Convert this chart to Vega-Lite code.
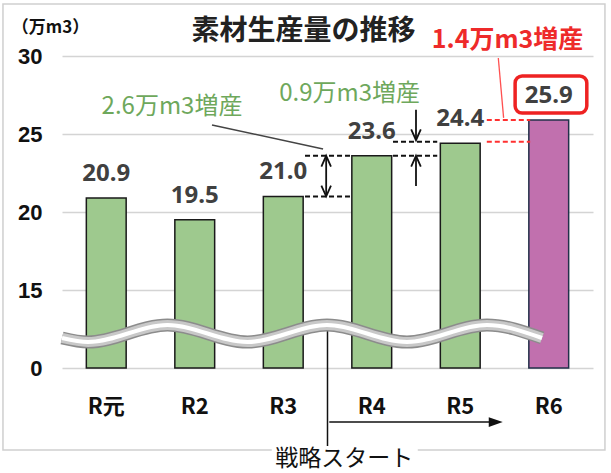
{
  "$schema": "https://vega.github.io/schema/vega-lite/v6.json",
  "width": 531,
  "height": 312,
  "autosize": "none",
  "padding": {"left": 62, "top": 56, "right": 18, "bottom": 105},
  "background": "white",
  "config": {"view": {"stroke": null}, "font": "Noto Sans CJK JP"},
  "datasets": {
    "wave": [
      {"px": 0.0, "v": 5.77},
      {"px": 0.294, "v": 5.0},
      {"px": 1.192, "v": 8.27},
      {"px": 2.096, "v": 5.0},
      {"px": 2.994, "v": 8.27},
      {"px": 3.898, "v": 5.0},
      {"px": 4.802, "v": 8.27},
      {"px": 5.424, "v": 5.77}
    ]
  },
  "encoding": {
    "y": {
      "field": "v",
      "type": "quantitative",
      "scale": {"domain": [0, 15, 30], "range": [312, 234, 0], "nice": false, "zero": false},
      "axis": {
        "values": [0, 15, 20, 25, 30],
        "title": "（万m3）",
        "titleAngle": 0,
        "titleX": -12,
        "titleY": -29,
        "titleAlign": "center",
        "titleBaseline": "middle",
        "titleFont": "Noto Sans CJK JP",
        "titleFontSize": 17,
        "titleFontWeight": "bold",
        "titleColor": "#111111",
        "labelFont": "Liberation Sans",
        "labelFontSize": 22,
        "labelFontWeight": "bold",
        "labelColor": "#111111",
        "labelPadding": 20,
        "ticks": false,
        "domain": false,
        "grid": true,
        "gridColor": "#d4d4d4",
        "gridWidth": 1.5
      }
    }
  },
  "layer": [
    {
      "data": {"values": [{"a": -0.667, "b": 6.135, "v": 33.33, "v2": -15.77}]},
      "mark": {"type": "rect", "fill": "transparent", "stroke": "#cfcfcf", "strokeWidth": 1.5},
      "encoding": {
        "x": {"field": "a", "type": "quantitative", "scale": {"domain": [0, 6], "nice": false, "zero": false}, "axis": null},
        "x2": {"field": "b"},
        "y2": {"field": "v2"}
      }
    },
    {
      "data": {"values": [
        {"cat": "R元", "v": 20.9, "g": "a"},
        {"cat": "R2", "v": 19.5, "g": "a"},
        {"cat": "R3", "v": 21.0, "g": "a"},
        {"cat": "R4", "v": 23.6, "g": "a"},
        {"cat": "R5", "v": 24.4, "g": "a"},
        {"cat": "R6", "v": 25.9, "g": "b"}
      ]},
      "encoding": {
        "x": {"field": "cat", "type": "nominal", "sort": null,
          "scale": {"paddingInner": 0.55, "paddingOuter": 0.275},
          "axis": {"title": null, "labelAngle": 0, "labelFont": "Noto Sans CJK JP", "labelFontSize": 22, "labelFontWeight": "bold", "labelColor": "#111111", "labelPadding": 28, "ticks": false, "domain": false, "grid": false}}
      },
      "layer": [
        {
          "mark": {"type": "bar", "strokeWidth": 1.5},
          "encoding": {
            "color": {"field": "g", "type": "nominal", "scale": {"domain": ["a", "b"], "range": ["#9ec98e", "#c170ae"]}, "legend": null},
            "stroke": {"field": "g", "type": "nominal", "scale": {"domain": ["a", "b"], "range": ["#1a1a1a", "#22304a"]}, "legend": null}
          }
        },
        {
          "mark": {"type": "text", "dy": -24, "fontSize": 24, "fontWeight": "bold", "font": "Noto Sans", "color": "#404040", "baseline": "middle"},
          "encoding": {
            "text": {"field": "v", "type": "quantitative", "format": ".1f"}
          }
        }
      ]
    },
    {
      "data": {"values": [{"a": 3.0, "v": 8.0, "v2": -15.6}]},
      "mark": {"type": "rule", "color": "#111111", "strokeWidth": 1.5},
      "encoding": {
        "x": {"field": "a", "type": "quantitative", "scale": {"domain": [0, 6], "nice": false, "zero": false}, "axis": null},
        "y2": {"field": "v2"}
      }
    },
    {
      "data": {"name": "wave"},
      "mark": {"type": "line", "interpolate": "monotone", "color": "#8c8c8c", "strokeWidth": 13, "strokeCap": "butt"},
      "encoding": {"x": {"field": "px", "type": "quantitative", "scale": {"domain": [0, 6], "nice": false, "zero": false}, "axis": null}}
    },
    {
      "data": {"name": "wave"},
      "mark": {"type": "line", "interpolate": "monotone", "color": "#c8c8c8", "strokeWidth": 10, "strokeCap": "butt"},
      "encoding": {"x": {"field": "px", "type": "quantitative", "scale": {"domain": [0, 6], "nice": false, "zero": false}, "axis": null}}
    },
    {
      "data": {"name": "wave"},
      "mark": {"type": "line", "interpolate": "monotone", "color": "#ffffff", "strokeWidth": 4, "strokeCap": "butt"},
      "encoding": {"x": {"field": "px", "type": "quantitative", "scale": {"domain": [0, 6], "nice": false, "zero": false}, "axis": null}}
    },
    {
      "data": {"values": [{"a": 3.02, "b": 4.9, "v": -10.4}]},
      "mark": {"type": "rule", "color": "#111111", "strokeWidth": 1.5},
      "encoding": {
        "x": {"field": "a", "type": "quantitative", "scale": {"domain": [0, 6], "nice": false, "zero": false}, "axis": null},
        "x2": {"field": "b"}
      }
    },
    {
      "data": {"values": [{"a": 4.98, "v": -10.4}]},
      "mark": {"type": "point", "shape": "M0,0L-2,-0.7L-2,0.7Z", "filled": true, "color": "#111111", "size": 196, "opacity": 1},
      "encoding": {"x": {"field": "a", "type": "quantitative", "scale": {"domain": [0, 6], "nice": false, "zero": false}, "axis": null}}
    },
    {
      "data": {"values": [
        {"a": 2.746, "b": 3.254, "v": 21.0},
        {"a": 2.746, "b": 3.254, "v": 23.6},
        {"a": 3.74, "b": 4.24, "v": 23.6},
        {"a": 3.74, "b": 4.24, "v": 24.5}
      ]},
      "mark": {"type": "rule", "color": "#111111", "strokeWidth": 2, "strokeDash": [5, 3]},
      "encoding": {
        "x": {"field": "a", "type": "quantitative", "scale": {"domain": [0, 6], "nice": false, "zero": false}, "axis": null},
        "x2": {"field": "b"}
      }
    },
    {
      "data": {"values": [
        {"a": 4.8, "b": 5.29, "v": 25.9},
        {"a": 4.8, "b": 5.29, "v": 24.5}
      ]},
      "mark": {"type": "rule", "color": "#ff3030", "strokeWidth": 2, "strokeDash": [5, 3]},
      "encoding": {
        "x": {"field": "a", "type": "quantitative", "scale": {"domain": [0, 6], "nice": false, "zero": false}, "axis": null},
        "x2": {"field": "b"}
      }
    },
    {
      "data": {"values": [
        {"a": 2.985, "v": 23.55, "v2": 21.05},
        {"a": 4.0, "v": 26.55, "v2": 24.65},
        {"a": 4.0, "v": 21.67, "v2": 23.55}
      ]},
      "mark": {"type": "rule", "color": "#111111", "strokeWidth": 1.8},
      "encoding": {
        "x": {"field": "a", "type": "quantitative", "scale": {"domain": [0, 6], "nice": false, "zero": false}, "axis": null},
        "y2": {"field": "v2"}
      }
    },
    {
      "data": {"values": [{"a": 2.985, "v": 23.6}, {"a": 4.0, "v": 23.6}]},
      "mark": {"type": "point", "shape": "M-0.8,1.8L0,0L0.8,1.8", "filled": false, "color": "#111111", "strokeWidth": 1.8, "size": 144, "opacity": 1},
      "encoding": {"x": {"field": "a", "type": "quantitative", "scale": {"domain": [0, 6], "nice": false, "zero": false}, "axis": null}}
    },
    {
      "data": {"values": [{"a": 2.985, "v": 21.0}, {"a": 4.0, "v": 24.6}]},
      "mark": {"type": "point", "shape": "M-0.8,-1.8L0,0L0.8,-1.8", "filled": false, "color": "#111111", "strokeWidth": 1.8, "size": 144, "opacity": 1},
      "encoding": {"x": {"field": "a", "type": "quantitative", "scale": {"domain": [0, 6], "nice": false, "zero": false}, "axis": null}}
    },
    {
      "data": {"values": [{"a": 1.695, "b": 2.95, "v": 25.58, "v2": 24.04}]},
      "mark": {"type": "rule", "color": "#444444", "strokeWidth": 1.5},
      "encoding": {
        "x": {"field": "a", "type": "quantitative", "scale": {"domain": [0, 6], "nice": false, "zero": false}, "axis": null},
        "x2": {"field": "b"},
        "y2": {"field": "v2"}
      }
    },
    {
      "data": {"values": [{"a": 4.93, "b": 4.99, "v": 29.87, "v2": 26.03}]},
      "mark": {"type": "rule", "color": "#ff5050", "strokeWidth": 1.3},
      "encoding": {
        "x": {"field": "a", "type": "quantitative", "scale": {"domain": [0, 6], "nice": false, "zero": false}, "axis": null},
        "x2": {"field": "b"},
        "y2": {"field": "v2"}
      }
    },
    {
      "data": {"values": [{"a": 5.12, "b": 5.93, "v": 28.72, "v2": 26.35}]},
      "mark": {"type": "rect", "fill": "transparent", "stroke": "#ee2222", "strokeWidth": 3.5, "cornerRadius": 7},
      "encoding": {
        "x": {"field": "a", "type": "quantitative", "scale": {"domain": [0, 6], "nice": false, "zero": false}, "axis": null},
        "x2": {"field": "b"},
        "y2": {"field": "v2"}
      }
    },
    {
      "data": {"values": [{"a": 2.37, "b": 4.02, "v": -15.0, "v2": -20.0}]},
      "mark": {"type": "rect", "fill": "white", "stroke": null},
      "encoding": {
        "x": {"field": "a", "type": "quantitative", "scale": {"domain": [0, 6], "nice": false, "zero": false}, "axis": null},
        "x2": {"field": "b"},
        "y2": {"field": "v2"}
      }
    },
    {
      "data": {"values": [{"a": 2.73, "v": 31.51, "t": "素材生産量の推移"}]},
      "mark": {"type": "text", "font": "Noto Sans CJK JP", "fontSize": 28, "fontWeight": "bold", "color": "#222222", "baseline": "middle", "align": "center"},
      "encoding": {
        "x": {"field": "a", "type": "quantitative", "scale": {"domain": [0, 6], "nice": false, "zero": false}, "axis": null},
        "text": {"field": "t"}
      }
    },
    {
      "data": {"values": [
        {"a": 1.243, "v": 26.73, "t": "2.6万m3増産"},
        {"a": 3.25, "v": 27.56, "t": "0.9万m3増産"}
      ]},
      "mark": {"type": "text", "font": "Noto Sans CJK JP", "fontSize": 24, "color": "#6ea85c", "baseline": "middle", "align": "center"},
      "encoding": {
        "x": {"field": "a", "type": "quantitative", "scale": {"domain": [0, 6], "nice": false, "zero": false}, "axis": null},
        "text": {"field": "t"}
      }
    },
    {
      "data": {"values": [{"a": 5.034, "v": 31.03, "t": "1.4万m3増産"}]},
      "mark": {"type": "text", "font": "Noto Sans CJK JP", "fontSize": 25, "fontWeight": "bold", "color": "#ee2a2a", "baseline": "middle", "align": "center"},
      "encoding": {
        "x": {"field": "a", "type": "quantitative", "scale": {"domain": [0, 6], "nice": false, "zero": false}, "axis": null},
        "text": {"field": "t"}
      }
    },
    {
      "data": {"values": [{"a": 3.19, "v": -17.5, "t": "戦略スタート"}]},
      "mark": {"type": "text", "font": "Noto Sans CJK JP", "fontSize": 23, "color": "#111111", "baseline": "middle", "align": "center"},
      "encoding": {
        "x": {"field": "a", "type": "quantitative", "scale": {"domain": [0, 6], "nice": false, "zero": false}, "axis": null},
        "text": {"field": "t"}
      }
    }
  ],
  "resolve": {"scale": {"x": "independent"}}
}
